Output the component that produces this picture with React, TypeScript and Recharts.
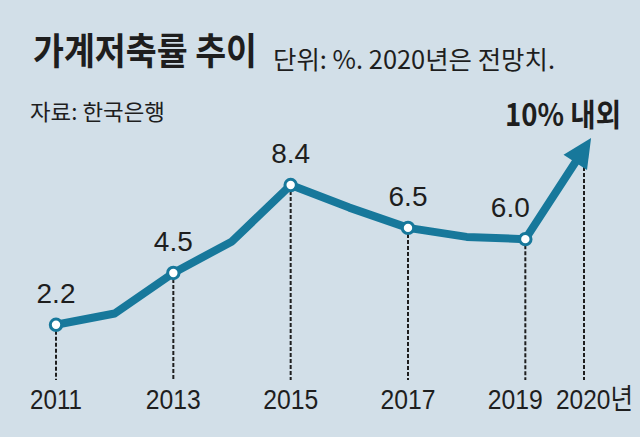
import React from 'react';
import { LineChart, Line, XAxis, YAxis, ReferenceLine } from 'recharts';

const years = [2011, 2012, 2013, 2014, 2015, 2016, 2017, 2018, 2019, 2020];
const savingRates = [2.2, 2.7, 4.5, 5.9, 8.4, 7.4, 6.5, 6.1, 6.0, 10];
const labeledYears = [2011, 2013, 2015, 2017, 2019];
const tickYears = [2011, 2013, 2015, 2017, 2019, 2020];
// 2020 forecast guide starts just under the arrow head
const forecastGuideTop = 9.2;
const axisFloor = -0.25;

const BG = '#d2dfe8';
const LINE = '#17789b';
const INK = '#1e1e1e';
const KR = '"Noto Sans CJK KR", "Noto Sans", sans-serif';

const data = years.map((year, i) => ({ year, rate: savingRates[i] }));
const lastYear = years[years.length - 1];

let prevPoint: { x: number; y: number } | null = null;

function renderDot(props: any) {
  const { cx, cy, index, payload, points } = props;
  const year = payload?.year;
  const prev = points && index > 0 ? points[index - 1] : prevPoint;
  prevPoint = { x: cx, y: cy };
  if (year === lastYear && prev) {
    const dx = cx - prev.x;
    const dy = cy - prev.y;
    const len = Math.sqrt(dx * dx + dy * dy) || 1;
    const ux = dx / len;
    const uy = dy / len;
    const px = -uy;
    const py = ux;
    const tip = [cx + ux * 13, cy + uy * 13];
    const base = [cx - ux * 16, cy - uy * 16];
    const w = 14;
    const pts = [
      tip,
      [base[0] + px * w, base[1] + py * w],
      [base[0] - px * w, base[1] - py * w],
    ]
      .map((p) => p.join(','))
      .join(' ');
    return <polygon key={`arrow-${index}`} points={pts} fill={LINE} />;
  }
  if (labeledYears.includes(year)) {
    return (
      <circle key={`dot-${index}`} cx={cx} cy={cy} r={5.7} fill="#fff" stroke={LINE} strokeWidth={3} />
    );
  }
  return <g key={`none-${index}`} />;
}

function renderLabel(props: any) {
  const { x, y, index, value } = props;
  const year = years[index];
  if (!labeledYears.includes(year)) return null;
  const shift = year === 2019 ? -15 : 0;
  return (
    <text
      key={`lbl-${index}`}
      x={x + shift}
      y={y - 22}
      textAnchor="middle"
      fontFamily='"Liberation Sans", Arial, sans-serif'
      fontSize={28}
      fill={INK}
    >
      {Number(value).toFixed(1)}
    </text>
  );
}

function YearTick(props: any) {
  const { x, y, payload } = props;
  const year = payload.value;
  if (year === lastYear) {
    // "2020" stays centred on its guide, the 년 suffix hangs to the right
    return (
      <text
        x={x - 28}
        y={y + 29}
        textAnchor="start"
        fontFamily={'"Liberation Sans", Arial, "Noto Sans CJK KR", sans-serif'}
        fontSize={28}
        textLength={77}
        lengthAdjust="spacingAndGlyphs"
        fill={INK}
      >
        {year}년
      </text>
    );
  }
  const shift = year === 2019 ? -10 : 0;
  return (
    <text
      x={x + shift}
      y={y + 29}
      textAnchor="middle"
      fontFamily='"Liberation Sans", Arial, sans-serif'
      fontSize={28}
      textLength={year === 2011 ? 52 : 55}
      lengthAdjust="spacingAndGlyphs"
      fill={INK}
    >
      {year}
    </text>
  );
}

export default function App() {
  prevPoint = null;
  return (
    <div style={{ position: 'absolute', left: 0, top: 0, width: 640, height: 437, background: BG, overflow: 'hidden' }}>
      <LineChart
        width={640}
        height={437}
        data={data}
        margin={{ top: 149, right: 56, left: 56, bottom: 27 }}
      >
        <XAxis
          dataKey="year"
          type="number"
          domain={[2011, 2020]}
          ticks={tickYears}
          axisLine={false}
          tickLine={false}
          tickSize={0}
          tickMargin={0}
          height={30}
          tick={<YearTick />}
          interval={0}
        />
        <YAxis hide domain={[axisFloor, 10]} />
        {labeledYears.map((yr) => (
          <ReferenceLine
            key={yr}
            segment={[
              { x: yr, y: savingRates[years.indexOf(yr)] },
              { x: yr, y: axisFloor },
            ]}
            stroke={INK}
            strokeWidth={2}
            strokeDasharray="4 2"
          />
        ))}
        <ReferenceLine
          segment={[
            { x: lastYear, y: forecastGuideTop },
            { x: lastYear, y: axisFloor },
          ]}
          stroke={INK}
          strokeWidth={2}
          strokeDasharray="4 2"
        />
        <Line
          dataKey="rate"
          stroke={LINE}
          strokeWidth={8}
          strokeLinejoin="round"
          type="linear"
          dot={renderDot}
          activeDot={false}
          label={renderLabel}
          isAnimationActive={false}
        />
      </LineChart>
      <svg width={640} height={437} style={{ position: 'absolute', left: 0, top: 0, pointerEvents: 'none' }}>
        <text x={33} y={65} fontFamily={KR} fontWeight={700} fontSize={37} textLength={224} lengthAdjust="spacingAndGlyphs" fill={INK}>
          가계저축률 추이
        </text>
        <text x={273} y={69} fontFamily={KR} fontSize={25} textLength={282} lengthAdjust="spacingAndGlyphs" fill={INK}>
          단위: %. 2020년은 전망치.
        </text>
        <text x={30} y={120} fontFamily={KR} fontSize={22} textLength={135} lengthAdjust="spacingAndGlyphs" fill={INK}>
          자료: 한국은행
        </text>
        <text x={505} y={126} fontFamily={KR} fontWeight={700} fontSize={31} textLength={116} lengthAdjust="spacingAndGlyphs" fill={INK}>
          10% 내외
        </text>
      </svg>
    </div>
  );
}
